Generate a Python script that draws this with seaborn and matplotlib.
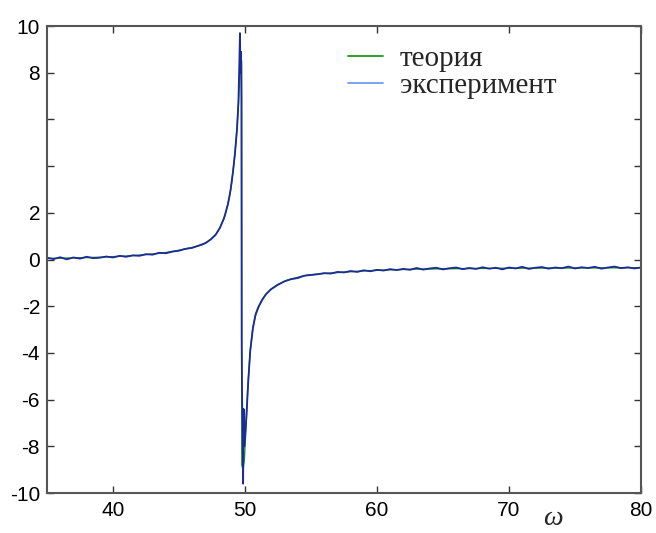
import matplotlib
matplotlib.use("Agg")
import matplotlib.pyplot as plt
import seaborn as sns

# theory curve
theory_x = [35, 37, 39, 41, 42, 43, 44, 45, 46, 46.7, 47.2, 47.7, 48.1, 48.5,
            48.8, 49.0, 49.2, 49.35, 49.5, 49.6, 49.7, 49.75, 49.76, 49.85,
            49.95, 50.1, 50.2, 50.4, 50.6, 50.8, 51.1, 51.5, 51.9, 52.5, 53.2,
            54.0, 54.7, 55.7, 56.7, 58, 59.2, 61, 63, 66, 70, 75, 80]
theory_y = [0.05, 0.07, 0.10, 0.15, 0.19, 0.24, 0.30, 0.40, 0.52, 0.62, 0.78,
            1.0, 1.35, 1.9, 2.6, 3.3, 4.3, 5.3, 6.6, 7.8, 8.6, 8.5, -8.8, -9.0,
            -8.6, -7.0, -5.6, -3.9, -2.9, -2.4, -1.95, -1.55, -1.3, -1.06,
            -0.88, -0.76, -0.67, -0.61, -0.57, -0.52, -0.48, -0.44, -0.41,
            -0.39, -0.37, -0.36, -0.35]

# measured curve (noisy)
exp_x = [35.0, 35.5, 36.0, 36.5, 37.0, 37.5, 38.0, 38.5, 39.0, 39.5, 40.0,
         40.5, 41.0, 41.5, 42.0, 42.5, 43.0, 43.5, 44.0, 44.5, 45.0, 45.5,
         46.0, 46.5, 47.0, 47.4, 47.8, 48.1, 48.4, 48.7, 48.9, 49.1, 49.25,
         49.4, 49.5, 49.58, 49.62, 49.66, 49.7, 49.73, 49.75, 49.77, 49.86,
         49.9, 49.95, 50.05, 50.15, 50.25, 50.4, 50.6, 50.8, 51.0, 51.3, 51.6,
         52.0, 52.5, 53.0, 53.5, 54.0, 54.5, 55.0, 55.5, 56.0, 56.5, 57.0,
         57.5, 58.0, 58.5, 59.0, 59.5, 60.0, 60.5, 61.0, 61.5, 62.0, 62.5,
         63.0, 63.5, 64.0, 64.5, 65.0, 65.5, 66.0, 66.5, 67.0, 67.5, 68.0,
         68.5, 69.0, 69.5, 70.0, 70.5, 71.0, 71.5, 72.0, 72.5, 73.0, 73.5,
         74.0, 74.5, 75.0, 75.5, 76.0, 76.5, 77.0, 77.5, 78.0, 78.5, 79.0,
         79.5, 80.0]
exp_y = [0.08, 0.02, 0.10, 0.01, 0.09, 0.04, 0.12, 0.06, 0.08, 0.13, 0.09,
         0.16, 0.12, 0.18, 0.16, 0.23, 0.21, 0.29, 0.27, 0.34, 0.38, 0.46,
         0.50, 0.60, 0.70, 0.86, 1.08, 1.36, 1.75, 2.35, 2.95, 3.8, 4.6,
         5.6, 6.7, 8.6, 9.7, 8.0, 8.9, 6.9, -3.4, -5.2, -9.6,
         -6.4, -8.0, -7.2, -6.3, -5.2, -3.9, -2.95, -2.35, -2.05, -1.72, -1.48,
         -1.26, -1.08, -0.93, -0.84, -0.79, -0.69, -0.66, -0.63, -0.58, -0.60,
         -0.53, -0.55, -0.49, -0.53, -0.46, -0.50, -0.44, -0.47, -0.41, -0.45,
         -0.40, -0.44, -0.36, -0.43, -0.38, -0.35, -0.42, -0.37, -0.34, -0.41,
         -0.36, -0.40, -0.33, -0.39, -0.35, -0.42, -0.34, -0.38, -0.31, -0.40,
         -0.35, -0.32, -0.39, -0.34, -0.37, -0.30, -0.38, -0.33, -0.36, -0.31,
         -0.39, -0.34, -0.30, -0.37, -0.33, -0.38, -0.34]

y_ticks = [-10, -8, -6, -4, -2, 0, 2, 4, 6, 8, 10]
y_labels = ["-10", "-8", "-6", "-4", "-2", "0", "2", "", "", "8", "10"]
x_ticks = [40, 50, 60, 70, 80]

sns.set_style("white")
plt.rcParams["font.family"] = ["Liberation Sans", "DejaVu Sans"]

fig = plt.figure(figsize=(6.56, 5.33), dpi=100)
ax = fig.add_axes([0.0716, 0.075, 0.9055, 0.876])

sns.lineplot(x=theory_x, y=theory_y, color="#1a9a1a", lw=1.0,
             label="теория", ax=ax, sort=False)
sns.lineplot(x=exp_x, y=exp_y, color="#1c2a9a", lw=1.3,
             label="эксперимент", ax=ax, sort=False)

ax.set_xlim(35, 80)
ax.set_ylim(-10, 10)
ax.set_xticks(x_ticks)
ax.set_yticks(y_ticks)
ax.set_yticklabels(y_labels)
ax.tick_params(direction="in", length=5, width=1, colors="#333333",
               labelsize=15, labelcolor="black", top=True, right=True,
               left=True, bottom=True)
ax.tick_params(axis="y", pad=5)
ax.tick_params(axis="x", pad=6)
for sp in ax.spines.values():
    sp.set_color("#555555")
    sp.set_linewidth(1.5)

leg = ax.legend(loc="upper left", bbox_to_anchor=(0.483, 0.99), frameon=False,
                prop={"family": "Liberation Serif", "size": 21},
                handlelength=1.2, handletextpad=0.55, labelspacing=0.02,
                borderpad=0)
leg.get_lines()[0].set_color("#1a9a1a")
leg.get_lines()[1].set_color("#6f9cf0")
for ln in leg.get_lines():
    ln.set_linewidth(1.3)

fig.text(553 / 656, 1 - 506 / 533, "ω", family="Liberation Serif",
         style="italic", fontsize=20, ha="center", va="top")

fig.savefig("out.png", dpi=100)
